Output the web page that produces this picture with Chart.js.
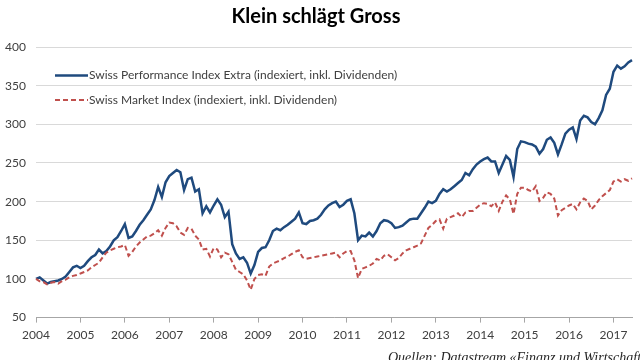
<!DOCTYPE html>
<html>
<head>
<meta charset="utf-8">
<script src="https://cdn.jsdelivr.net/npm/chart.js@4.4.1/dist/chart.umd.min.js"></script>
<style>
  html, body { margin: 0; padding: 0; background: #ffffff; }
  #wrap { width: 640px; height: 360px; position: relative; }
</style>
</head>
<body>
<div id="wrap"><canvas id="c" width="640" height="360"></canvas></div>
<script>
// ---- data (monthly) ----
const titleText = 'Klein schlägt Gross';
const sourceText = 'Quellen: Datastream «Finanz und Wirtschaft»';
const seriesNames = [
  'Swiss Performance Index Extra (indexiert, inkl. Dividenden)',
  'Swiss Market Index (indexiert, inkl. Dividenden)'
];
const firstYear = 2004, lastYear = 2017, lastMonth = 6;

const spiExtra = [
  100, 102, 98, 94, 96, 97, 98, 100, 103, 109, 115, 117,
  114, 117, 123, 128, 131, 138, 133, 136, 142, 150, 154, 162,
  171, 153, 155, 162, 170, 176, 183, 190, 202, 219, 206, 225,
  233, 237, 241, 238, 215, 229, 231, 213, 216, 185, 194, 186,
  195, 203, 196, 180, 187, 145, 133, 126, 128, 121, 107, 118,
  135, 140, 141, 150, 162, 165, 163, 167, 170, 174, 178, 186,
  172, 171, 175, 176, 178, 183, 190, 195, 198, 200, 193, 196,
  201, 203, 185, 150, 156, 155, 160, 155, 162, 172, 176, 175,
  172, 166, 167, 169, 173, 177, 178, 178, 185, 192, 200, 198,
  201, 210, 216, 213, 216, 220, 224, 228, 237, 234, 242, 248,
  252, 255, 257, 252, 252, 237, 248, 259, 254, 232, 268, 278,
  277, 275, 274, 271, 262, 268, 280, 283, 276, 261, 274, 288,
  293, 296, 281, 305, 311, 309, 303, 300, 308, 318, 338, 346,
  368, 376, 372, 375, 380, 383
];
const smi = [
  100, 97, 96, 93, 95, 96, 94, 97, 99, 102, 104, 105,
  107, 109, 111, 115, 118, 121, 128, 134, 137, 139, 141, 142,
  144, 130, 135, 142, 147, 151, 155, 156, 159, 163, 156, 166,
  173, 172, 168, 160, 157, 166, 165, 156, 151, 138, 139, 129,
  140, 138, 128, 134, 132, 122, 112, 109, 106, 98, 86, 100,
  105, 106, 104, 116, 120, 122, 124, 127, 129, 132, 135, 137,
  128, 126, 127, 128, 129, 130, 131, 132, 133, 134, 128, 133,
  136, 136, 124, 101, 113, 115, 117, 120, 126, 124, 130, 132,
  128, 124, 127, 133, 137, 139, 141, 143, 146, 156, 166, 170,
  175, 177, 165, 178, 180, 182, 185, 180, 186, 188, 188, 192,
  196, 198, 197, 194, 199, 188, 200, 208, 203, 184, 210, 218,
  218, 215, 213, 220, 201, 205, 212, 210, 204, 182, 189, 192,
  195, 197, 190, 199, 204, 201, 190, 195, 202, 207, 211, 215,
  226, 229, 226, 229, 227, 230
];
const yMin = 50, yMax = 400, yStep = 50;

// month categories "YYYY-MM"
const months = [];
for (let y = firstYear; y <= lastYear; y++) {
  for (let m = 1; m <= 12; m++) {
    if (y === lastYear && m > lastMonth) break;
    months.push(y + '-' + String(m).padStart(2, '0'));
  }
}

const FONT = 'Lato, "Open Sans", "DejaVu Sans", sans-serif';
const blue = '#1F4A7E';
const red = '#C0504D';

const insideLegend = {
  id: 'insideLegend',
  afterDraw(chart) {
    const ctx = chart.ctx;
    const rows = [75.5, 100];
    ctx.save();
    chart.data.datasets.forEach((ds, i) => {
      const y = rows[i];
      ctx.beginPath();
      ctx.strokeStyle = ds.borderColor;
      ctx.lineWidth = ds.borderWidth;
      ctx.setLineDash(ds.borderDash || []);
      ctx.moveTo(55, y);
      ctx.lineTo(88, y);
      ctx.stroke();
      ctx.setLineDash([]);
      ctx.fillStyle = '#404040';
      ctx.font = '12px ' + FONT;
      ctx.textBaseline = 'middle';
      ctx.textAlign = 'left';
      ctx.fillText(ds.label, 89, y);
    });
    // source line
    ctx.fillStyle = '#262626';
    ctx.font = 'italic 14px "Liberation Serif", "DejaVu Serif", serif';
    ctx.textBaseline = 'top';
    ctx.fillText(sourceText, 388, 351);
    ctx.restore();
  }
};

new Chart(document.getElementById('c'), {
  type: 'line',
  data: {
    labels: months,
    datasets: [
      {
        label: seriesNames[0],
        data: spiExtra,
        borderColor: blue,
        backgroundColor: blue,
        borderWidth: 2.5,
        pointRadius: 0,
        tension: 0,
        order: 2
      },
      {
        label: seriesNames[1],
        data: smi,
        borderColor: red,
        backgroundColor: red,
        borderWidth: 2,
        borderDash: [5, 3],
        pointRadius: 0,
        tension: 0,
        order: 1
      }
    ]
  },
  options: {
    responsive: false,
    devicePixelRatio: 1,
    animation: false,
    layout: { padding: { left: 0, right: 8, top: 0, bottom: 13 } },
    plugins: {
      legend: { display: false },
      tooltip: { enabled: false },
      title: {
        display: true,
        text: titleText,
        color: '#000000',
        font: { family: FONT, size: 20, weight: 'bold' },
        padding: { top: 5, bottom: 18 }
      }
    },
    scales: {
      x: {
        type: 'category',
        offset: false,
        grid: {
          drawOnChartArea: false,
          drawTicks: true,
          tickLength: 5,
          color: '#a6a6a6'
        },
        border: { display: true, color: '#a6a6a6', width: 1 },
        ticks: {
          autoSkip: false,
          maxRotation: 0,
          minRotation: 0,
          padding: 5,
          color: '#404040',
          font: { family: FONT, size: 12 },
          callback: function (value) {
            const lab = this.getLabelForValue(value);
            return lab.endsWith('-01') ? lab.slice(0, 4) : null;
          }
        }
      },
      y: {
        min: yMin,
        max: yMax,
        afterFit: (s) => { s.width = 36; },
        grid: { color: '#d9d9d9', lineWidth: 1, drawTicks: false },
        border: { display: false },
        ticks: {
          stepSize: yStep,
          padding: 10,
          color: '#404040',
          font: { family: FONT, size: 12 }
        }
      }
    }
  },
  plugins: [insideLegend]
});
</script>
</body>
</html>
